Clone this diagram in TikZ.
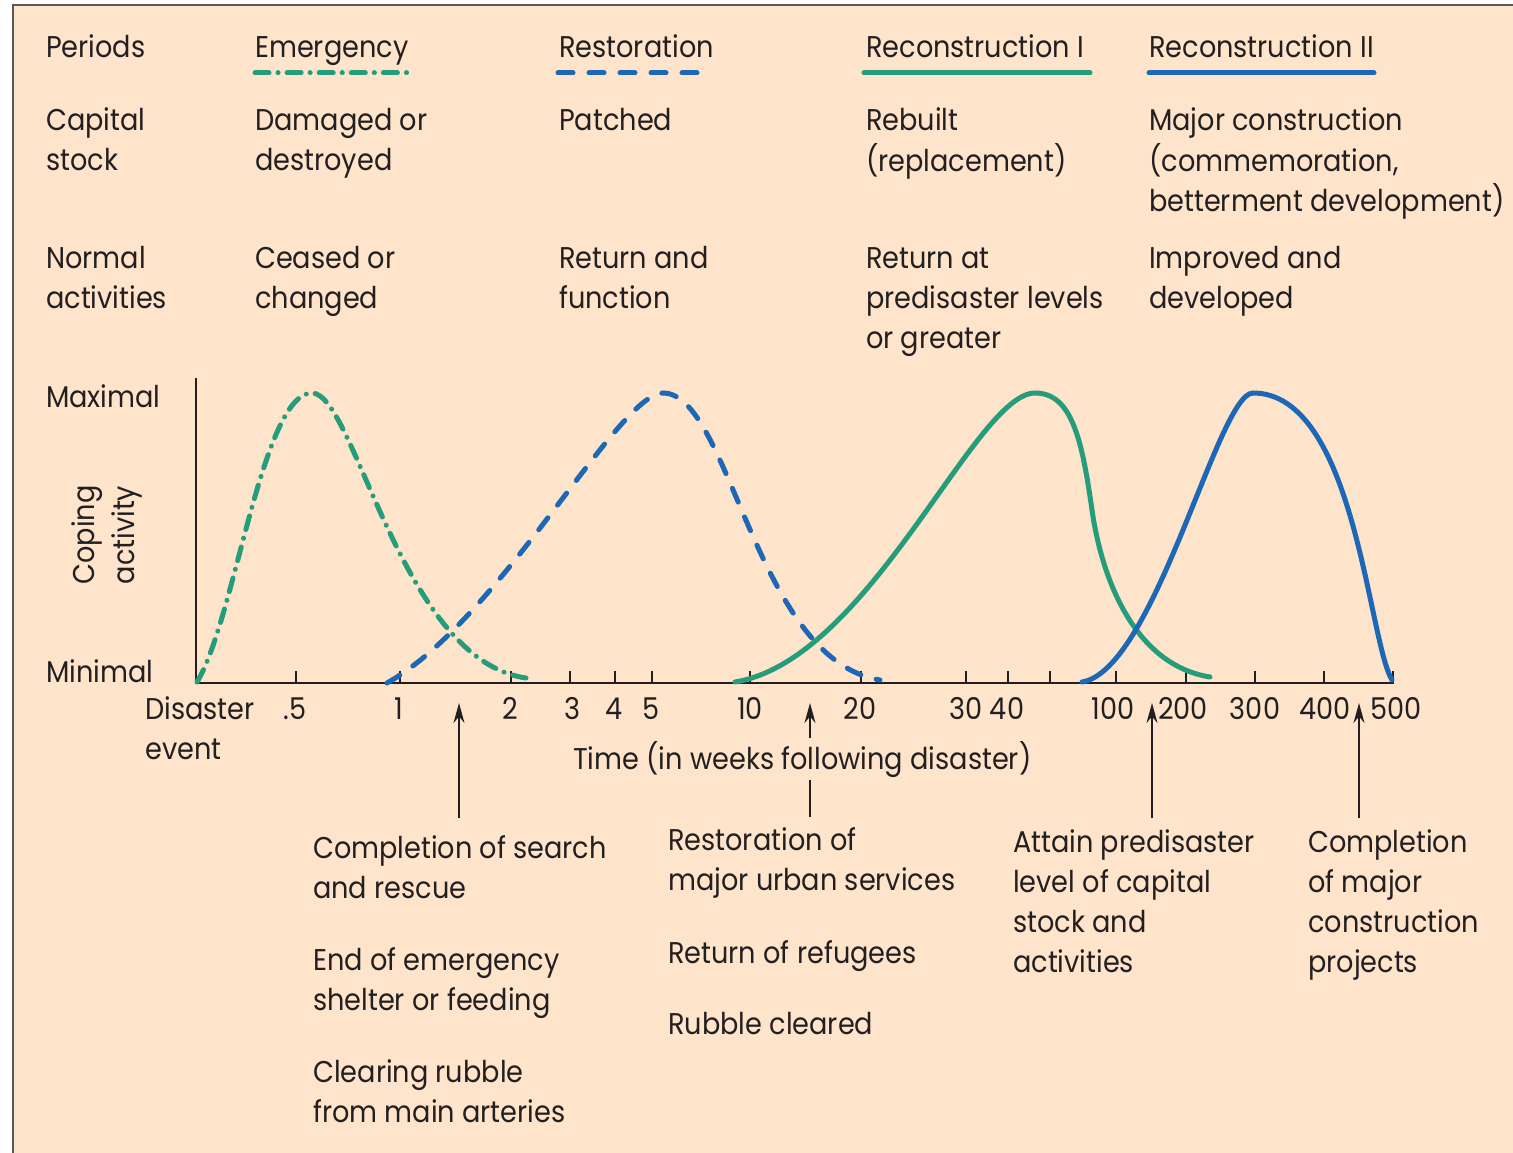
\documentclass[tikz,border=0pt]{standalone}
\usepackage{fontspec}
\setmainfont[FakeStretch=0.905]{Poppins}
\usetikzlibrary{arrows.meta}
\definecolor{bg}{RGB}{253,228,202}
\definecolor{grn}{RGB}{38,157,122}
\definecolor{blu}{RGB}{28,103,182}
\definecolor{ink}{RGB}{35,31,32}
\definecolor{framec}{RGB}{90,90,90}
\newcommand{\ml}[1]{\begin{tabular}[t]{@{}l@{}}#1\end{tabular}}
\tikzset{
  txt/.style={anchor=base west, inner sep=0pt, text=ink, font=\fontsize{30}{40}\selectfont},
  num/.style={anchor=base, inner sep=0pt, text=ink, font=\fontsize{30}{40}\selectfont},
  axisline/.style={draw=ink, line width=1.6pt},
  tickline/.style={draw=ink, line width=1.4pt},
  arr/.style={draw=ink, line width=1.5pt, -{Stealth[length=20pt,width=11pt]}},
  emerg/.style={draw=grn, line width=5pt, line cap=round, dash pattern=on 14pt off 9pt on 0.1pt off 9pt},
  restor/.style={draw=blu, line width=5pt, line cap=round, dash pattern=on 15pt off 16pt},
  recone/.style={draw=grn, line width=5pt, line cap=round},
  recontwo/.style={draw=blu, line width=5pt, line cap=round},
}
\begin{document}
\begin{tikzpicture}[x=1pt,y=-1pt]
\fill[white] (0,0) rectangle (1513,1153);
\useasboundingbox (0,0) rectangle (1513,1153);
\filldraw[fill=bg, draw=framec, line width=2.2pt] (13,5) rectangle (1540,1180);

% header rows
\node[txt] (hper) at (46,58) {Periods};
\node[txt] (hem) at (255,58) {Emergency};
\node[txt] (hre) at (559,58) {Restoration};
\node[txt] (hr1) at (866,58) {Reconstruction I};
\node[txt] (hr2) at (1149,58) {Reconstruction II};

\coordinate (le1) at (255,73); \coordinate (le2) at (412,73);
\coordinate (lr1) at (558,73); \coordinate (lr2) at (705,73);
\coordinate (l11) at (864,73); \coordinate (l12) at (1090,73);
\coordinate (l21) at (1149,73); \coordinate (l22) at (1374,73);
\draw[emerg] (le1) -- (le2);
\draw[restor] (lr1) -- (lr2);
\draw[recone] (l11) -- (l12);
\draw[recontwo] (l21) -- (l22);

\node[txt] (cap) at (46,131) {\ml{Capital\\stock}};
\node[txt] (cap1) at (255,131) {\ml{Damaged or\\destroyed}};
\node[txt] (cap2) at (559,131) {\ml{Patched}};
\node[txt] (cap3) at (866,131) {\ml{Rebuilt\\(replacement)}};
\node[txt] (cap4) at (1149,131) {\ml{Major construction\\(commemoration,\\betterment development)}};

\node[txt] (nor) at (46,268) {\ml{Normal\\activities}};
\node[txt] (nor1) at (255,268) {\ml{Ceased or\\changed}};
\node[txt] (nor2) at (559,268) {\ml{Return and\\function}};
\node[txt] (nor3) at (866,268) {\ml{Return at\\predisaster levels\\or greater}};
\node[txt] (nor4) at (1149,268) {\ml{Improved and\\developed}};

% axes
\node[txt] (max) at (46,407) {Maximal};
\node[txt] (min) at (46,682) {Minimal};
\node[inner sep=0pt, text=ink, font=\fontsize{30}{40}\selectfont, rotate=90] (cop) at (106,535) {\begin{tabular}{@{}c@{}}Coping\\activity\end{tabular}};

\coordinate (ytop) at (196,378);
\coordinate (orig) at (196,683);
\coordinate (xend) at (1394,683);
\draw[axisline] (ytop) -- (orig) -- (xend);
\foreach \t/\x in {t05/296,t1/400,t2/511,t3/570,t4/615,t5/652,t10/750,t20/861,t30/966,t40/1008,t50/1050,t100/1116,t200/1186,t300/1255,t400/1324,t500/1393}{
  \coordinate (\t a) at (\x,683); \coordinate (\t b) at (\x,671);
  \draw[tickline] (\t a) -- (\t b);
}

\node[txt] (dis) at (145,719) {\ml{Disaster\\event}};
\node[num] (n05) at (295,719) {.5};
\node[num] (n1) at (399,719) {1};
\node[num] (n2) at (510,719) {2};
\node[num] (n3) at (572,719) {3};
\node[num] (n4) at (614,719) {4};
\node[num] (n5) at (651,719) {5};
\node[num] (n10) at (750,719) {10};
\node[num] (n20) at (860,719) {20};
\node[num] (n30) at (966,719) {30};
\node[num] (n40) at (1007,719) {40};
\node[num] (n100) at (1113,719) {100};
\node[num] (n200) at (1183,719) {200};
\node[num] (n300) at (1255,719) {300};
\node[num] (n400) at (1325,719) {400};
\node[num] (n500) at (1396,719) {500};

% curves
\draw[emerg] (197,682) .. controls (235,620) and (262,393) .. (312,393)
                       .. controls (355,393) and (400,660) .. (526,678);
\draw[restor] (387,683) .. controls (500,620) and (618,393) .. (663,393)
                        .. controls (730,393) and (755,660) .. (880,680);
\draw[recone] (735,682) .. controls (870,660) and (975,393) .. (1035,393)
                        .. controls (1072,393) and (1082,440) .. (1092,510)
                        .. controls (1102,580) and (1135,665) .. (1210,677);
\draw[recontwo] (1082,682) .. controls (1155,670) and (1218,393) .. (1253,393)
                           .. controls (1355,393) and (1368,640) .. (1392,680);

% arrows
\coordinate (a1s) at (459,818); \coordinate (a1e) at (459,703);
\coordinate (a2s) at (810,817); \coordinate (a2e) at (810,703);
\coordinate (a3s) at (1152,818); \coordinate (a3e) at (1152,703);
\coordinate (a4s) at (1359,818); \coordinate (a4e) at (1359,703);
\draw[arr] (a1s) -- (a1e);
\draw[arr] (a2s) -- (a2e);
\draw[arr] (a3s) -- (a3e);
\draw[arr] (a4s) -- (a4e);

\node[txt, fill=bg, inner ysep=3pt] (time) at (573,769) {Time (in weeks following disaster)};

% bottom notes
\node[txt] (b1) at (313,858) {\ml{Completion of search\\and rescue}};
\node[txt] (b2) at (313,970) {\ml{End of emergency\\shelter or feeding}};
\node[txt] (b3) at (313,1082) {\ml{Clearing rubble\\from main arteries}};
\node[txt] (c1) at (668,850) {\ml{Restoration of\\major urban services}};
\node[txt] (c2) at (668,963) {Return of refugees};
\node[txt] (c3) at (668,1034) {Rubble cleared};
\node[txt] (d1) at (1013,852) {\ml{Attain predisaster\\level of capital\\stock and\\activities}};
\node[txt] (e1) at (1308,852) {\ml{Completion\\of major\\construction\\projects}};
\end{tikzpicture}
\end{document}
